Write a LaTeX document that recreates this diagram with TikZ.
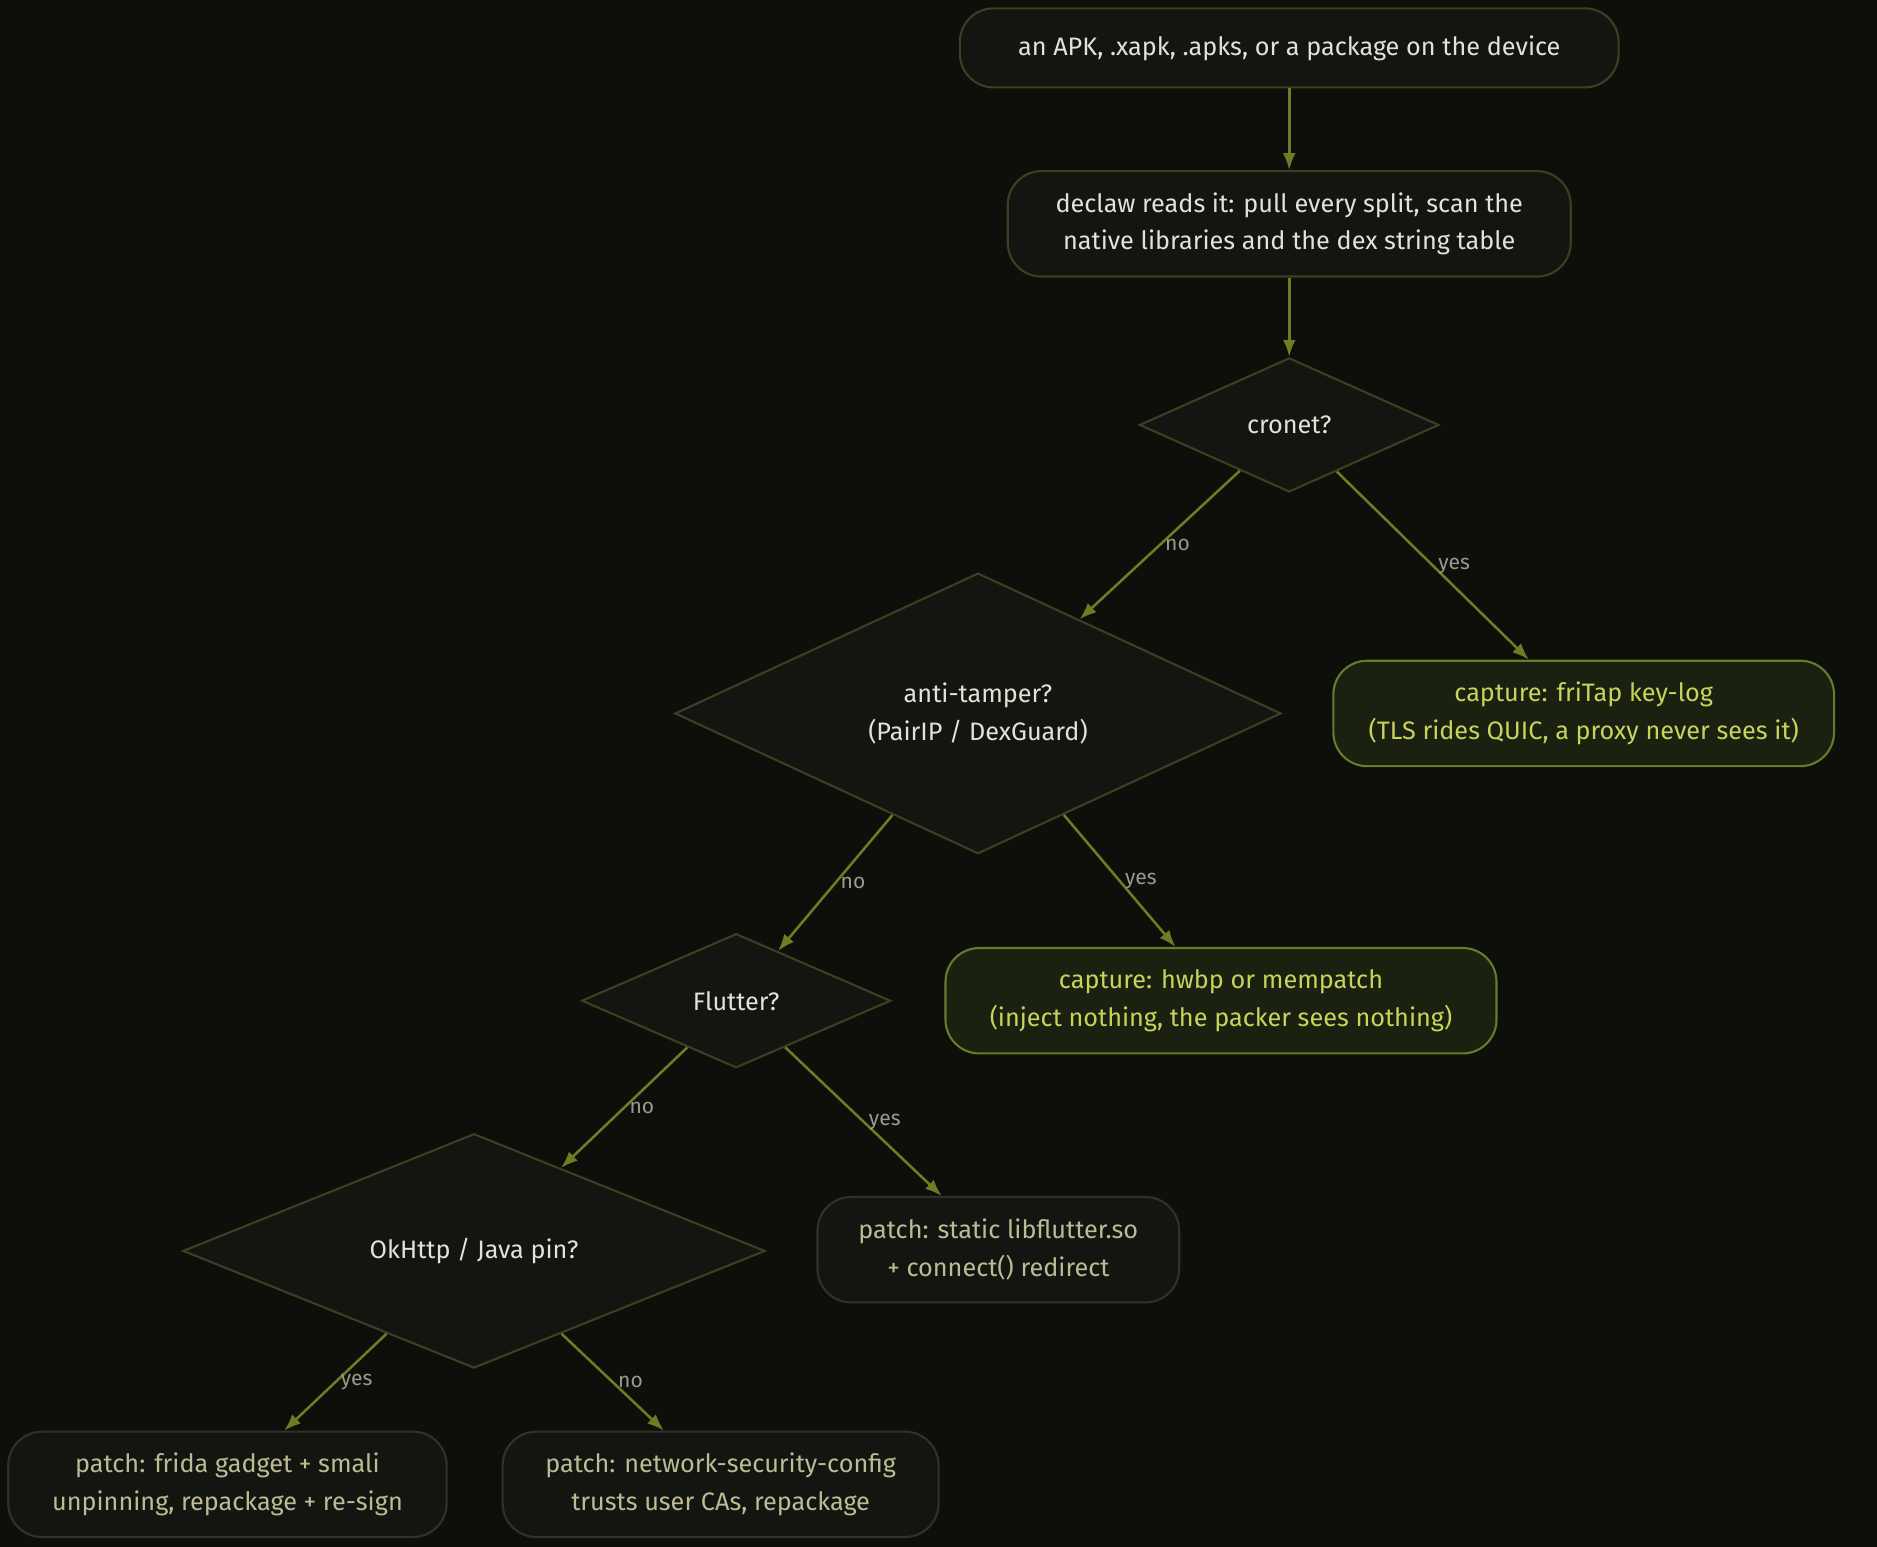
\documentclass[tikz,border=0pt]{standalone}
\usepackage{fontspec}
\setmainfont{Fira Sans}
\usetikzlibrary{shapes.geometric,arrows.meta}
\definecolor{bgc}{HTML}{0D0F0A}
\definecolor{boxfill}{HTML}{131510}
\definecolor{boxline}{HTML}{3A4022}
\definecolor{boxtext}{HTML}{E2E2D6}
\definecolor{capfill}{HTML}{1A2110}
\definecolor{capline}{HTML}{6B7A2A}
\definecolor{captext}{HTML}{C9D35A}
\definecolor{patchline}{HTML}{2F322A}
\definecolor{patchtext}{HTML}{BDBB94}
\definecolor{edgec}{HTML}{6E7D25}
\definecolor{labc}{HTML}{9A9A8C}
\tikzset{
  box/.style={draw=boxline, fill=boxfill, text=boxtext, rounded corners=8pt, align=center,
    inner sep=0pt, font=\fontsize{6}{9}\selectfont, line width=0.5pt},
  ask/.style={diamond, draw=boxline, fill=boxfill, text=boxtext, align=center, inner sep=0pt,
    font=\fontsize{6}{9}\selectfont, line width=0.5pt},
  capture/.style={box, draw=capline, fill=capfill, text=captext},
  patch/.style={box, draw=patchline, text=patchtext},
  flow/.style={draw=edgec, line width=0.6pt, -{Latex[length=4pt,width=3pt]}},
  lab/.style={text=labc, font=\fontsize{5}{6}\selectfont, inner sep=1pt}
}
\begin{document}
\begin{tikzpicture}[x=0.01cm, y=-0.01cm]
\fill[bgc] (0,0) rectangle (1568,1292);
\useasboundingbox (0,0) rectangle (1568,1292);
% nodes
\node[box, minimum width=5.50cm, minimum height=0.66cm] (input) at (1077,40) {an APK, .xapk, .apks, or a package on the device};
\node[box, minimum width=4.70cm, minimum height=0.88cm] (scan) at (1077,187) {declaw reads it: pull every split, scan the\\native libraries and the dex string table};
\node[ask, minimum width=2.50cm, minimum height=1.12cm] (cronet) at (1077,355) {cronet?};
\node[ask, minimum width=5.06cm, minimum height=1.78cm] (tamper) at (817,596) {anti-tamper?\\(PairIP / DexGuard)};
\node[capture, minimum width=4.18cm, minimum height=0.88cm] (fritap) at (1323,596) {capture: friTap key-log\\(TLS rides QUIC, a proxy never sees it)};
\node[ask, minimum width=2.58cm, minimum height=1.12cm] (flutter) at (615,836) {Flutter?};
\node[capture, minimum width=4.60cm, minimum height=0.88cm] (hwbp) at (1020,836) {capture: hwbp or mempatch\\(inject nothing, the packer sees nothing)};
\node[ask, minimum width=4.86cm, minimum height=1.12cm] (okhttp) at (396,1045) {OkHttp / Java pin?};
\node[patch, minimum width=3.02cm, minimum height=0.88cm] (libflut) at (834,1044) {patch: static libflutter.so\\+ connect() redirect};
\node[patch, minimum width=3.66cm, minimum height=0.88cm] (frida) at (190,1240) {patch: frida gadget + smali\\unpinning, repackage + re-sign};
\node[patch, minimum width=3.64cm, minimum height=0.88cm] (nsc) at (602,1240) {patch: network-security-config\\trusts user CAs, repackage};
% edges
\draw[flow] (input) -- (scan);
\draw[flow] (scan) -- (cronet);
\draw[flow] (cronet) -- node[lab, right, pos=0.5] {no} (tamper);
\draw[flow] (cronet) -- node[lab, right, pos=0.5] {yes} (fritap);
\draw[flow] (tamper) -- node[lab, right, pos=0.5] {no} (flutter);
\draw[flow] (tamper) -- node[lab, right, pos=0.5] {yes} (hwbp);
\draw[flow] (flutter) -- node[lab, right, pos=0.5] {no} (okhttp);
\draw[flow] (flutter) -- node[lab, right, pos=0.5] {yes} (libflut);
\draw[flow] (okhttp) -- node[lab, right, pos=0.5] {yes} (frida);
\draw[flow] (okhttp) -- node[lab, right, pos=0.5] {no} (nsc);
\end{tikzpicture}
\end{document}
